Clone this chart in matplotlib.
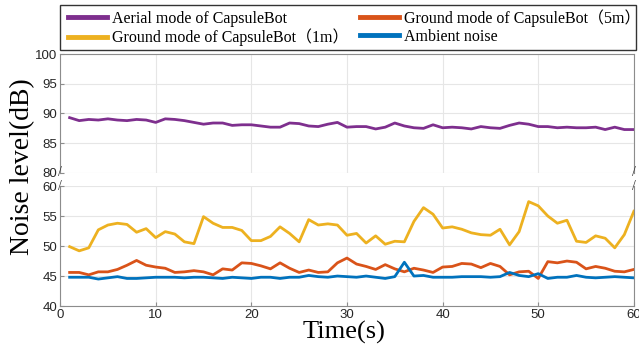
import numpy as np
import matplotlib
matplotlib.use('Agg')
import matplotlib.pyplot as plt
from matplotlib.patches import Rectangle

plt.rcParams['font.family'] = ['Liberation Sans', 'DejaVu Sans']

SERIF = ['Liberation Serif', 'Noto Sans CJK SC', 'DejaVu Serif']
TICK_COLOR = '#262626'
GRID_COLOR = '#e6e6e6'
SPINE_COLOR = '#8c8c8c'

# 数据 (时间 1..60 s)
time_s = np.arange(1, 61)

aerial = [89.3, 88.8, 89.0, 88.9, 89.1, 88.9, 88.8, 89.0, 88.9, 88.5,
          89.1, 89.0, 88.8, 88.5, 88.2, 88.4, 88.4, 88.0, 88.1, 88.1,
          87.9, 87.7, 87.7, 88.4, 88.3, 87.9, 87.8, 88.2, 88.5, 87.7,
          87.8, 87.8, 87.4, 87.7, 88.4, 87.9, 87.6, 87.5, 88.1, 87.6,
          87.7, 87.6, 87.4, 87.8, 87.6, 87.5, 88.0, 88.4, 88.2, 87.8,
          87.8, 87.6, 87.7, 87.6, 87.6, 87.7, 87.3, 87.7, 87.3, 87.3]

ground_1m = [49.9, 49.2, 49.7, 52.7, 53.5, 53.8, 53.6, 52.3, 52.9, 51.4,
             52.4, 52.0, 50.7, 50.4, 54.9, 53.8, 53.1, 53.1, 52.6, 50.9,
             50.9, 51.6, 53.2, 52.1, 50.7, 54.4, 53.5, 53.7, 53.5, 51.8,
             52.1, 50.5, 51.7, 50.3, 50.8, 50.7, 54.1, 56.4, 55.3, 53.0,
             53.2, 52.8, 52.2, 51.9, 51.8, 52.8, 50.2, 52.4, 57.4, 56.7,
             55.0, 53.8, 54.3, 50.8, 50.6, 51.7, 51.3, 49.7, 51.9, 55.8]

ground_5m = [45.6, 45.6, 45.2, 45.7, 45.7, 46.1, 46.8, 47.6, 46.8, 46.5,
             46.3, 45.6, 45.7, 45.9, 45.7, 45.2, 46.2, 46.0, 47.2, 47.1,
             46.7, 46.2, 47.2, 46.3, 45.6, 46.0, 45.6, 45.7, 47.2, 48.0,
             47.0, 46.6, 46.1, 46.9, 46.2, 45.7, 46.3, 46.0, 45.6, 46.5,
             46.6, 47.1, 47.0, 46.4, 47.1, 46.6, 45.2, 45.7, 45.8, 44.6,
             47.4, 47.2, 47.5, 47.3, 46.2, 46.6, 46.3, 45.8, 45.7, 46.1]

ambient = [44.8, 44.8, 44.8, 44.5, 44.7, 44.9, 44.6, 44.6, 44.7, 44.8,
           44.8, 44.8, 44.7, 44.8, 44.8, 44.7, 44.6, 44.8, 44.7, 44.6,
           44.8, 44.8, 44.6, 44.8, 44.8, 45.1, 44.9, 44.8, 45.0, 44.9,
           44.8, 45.0, 44.8, 44.6, 44.9, 47.3, 45.0, 45.1, 44.8, 44.8,
           44.8, 44.9, 44.9, 44.9, 44.8, 44.9, 45.6, 45.1, 44.9, 45.4,
           44.6, 44.8, 44.8, 45.1, 44.8, 44.7, 44.8, 44.9, 44.8, 44.7]

labels = ['Aerial mode of CapsuleBot',
          'Ground mode of CapsuleBot\uff081m\uff09',
          'Ground mode of CapsuleBot\uff085m\uff09',
          'Ambient noise']
colors = ['#7E2F8E', '#EDB120', '#D95319', '#0072BD']

fig = plt.figure(figsize=(6.39, 3.53), dpi=100)
ax_top = fig.add_axes([0.094, 0.510, 0.898, 0.337])
ax_bot = fig.add_axes([0.094, 0.133, 0.898, 0.340])

LW = 2.0
h_air, = ax_top.plot(time_s, aerial, color=colors[0], lw=LW)
h_1m, = ax_bot.plot(time_s, ground_1m, color=colors[1], lw=LW)
h_5m, = ax_bot.plot(time_s, ground_5m, color=colors[2], lw=LW)
h_amb, = ax_bot.plot(time_s, ambient, color=colors[3], lw=LW)

for ax in (ax_top, ax_bot):
    ax.set_xlim(0, 60)
    ax.set_xticks(np.arange(0, 61, 10))
    ax.grid(True, color=GRID_COLOR, lw=0.8)
    ax.set_axisbelow(True)
    ax.tick_params(direction='in', length=3, color=SPINE_COLOR,
                   labelsize=9.5, labelcolor=TICK_COLOR, pad=2)
    for s in ax.spines.values():
        s.set_color(SPINE_COLOR)
        s.set_linewidth(0.8)

ax_top.set_ylim(80, 100)
ax_top.set_yticks([80, 85, 90, 95, 100])
ax_top.tick_params(labelbottom=False, bottom=False)
ax_top.spines['bottom'].set_visible(False)

ax_bot.set_ylim(40, 60)
ax_bot.set_yticks([40, 45, 50, 55, 60])
ax_bot.spines['top'].set_visible(False)

# 断轴标记
for ax, yy in ((ax_top, 0.0), (ax_bot, 1.0)):
    for xx in (0.0, 1.0):
        ax.text(xx, yy, '/', transform=ax.transAxes, ha='center', va='center',
                fontsize=10, color='#333333', family=SERIF, clip_on=False)

fig.text(0.036, 0.527, 'Noise level(dB)', rotation=90, ha='center', va='center',
         fontsize=20, family=SERIF)
fig.text(0.538, 0.058, 'Time(s)', ha='center', va='center',
         fontsize=19, family=SERIF)

# 图例 (外框单独画)
leg = fig.legend([h_air, h_1m, h_5m, h_amb], labels, ncol=2,
                 loc='upper left', bbox_to_anchor=(68 / 639, 1 - 9 / 353),
                 frameon=False, prop={'family': SERIF, 'size': 11.5},
                 handlelength=2.45, handletextpad=0.3, borderaxespad=0,
                 borderpad=0, labelspacing=0.12, columnspacing=0.7)
for line in leg.get_lines():
    line.set_linewidth(3.5)
fig.patches.append(Rectangle((60 / 639, 1 - 50 / 353), 576 / 639, 45 / 353,
                             transform=fig.transFigure, fill=False,
                             edgecolor='#333333', lw=1.0))

fig.savefig('out.png', dpi=100)
